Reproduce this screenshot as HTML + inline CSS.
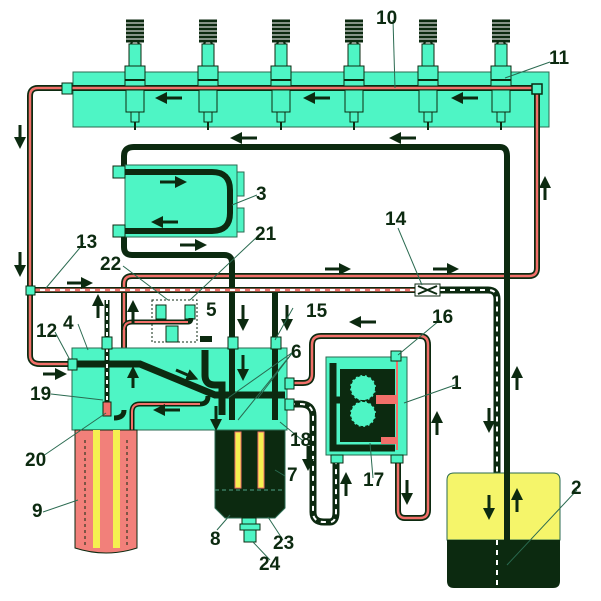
<!DOCTYPE html>
<html><head><meta charset="utf-8"><style>
html,body{margin:0;padding:0;background:#fff}
svg text{font-family:"Liberation Sans",sans-serif;font-weight:bold;font-size:19px;fill:#0c2a10}
</style></head><body>
<svg width="601" height="596" viewBox="0 0 601 596" xmlns="http://www.w3.org/2000/svg">
<defs>
<marker id="ah" markerWidth="4" markerHeight="4" refX="1" refY="2" orient="auto" markerUnits="strokeWidth"><path d="M0,0 L4,2 L0,4z" fill="#0c2a10"/></marker>
<g id="inj">
 <path d="M-9,21h18M-9,25h18M-9,29h18M-9,33h18M-9,37h18M-9,41h18" stroke="#0c2a10" stroke-width="3"/>
 <path d="M-4,44 L-2,40 M4,44 L2,40" stroke="#0c2a10" stroke-width="2"/>
 <rect x="-6" y="44" width="12" height="22" fill="#4ef5c5" stroke="#0c2a10"/>
 <rect x="-10" y="66" width="20" height="20" fill="#4ef5c5" stroke="#0c2a10"/>
 <path d="M-10,80h20" stroke="#0c2a10" stroke-width="2"/>
 <rect x="-9" y="90" width="18" height="22" fill="#4ef5c5" stroke="#0c2a10"/>
 <rect x="-4" y="112" width="8" height="10" fill="#4ef5c5" stroke="#0c2a10"/>
 <path d="M0,122v8" stroke="#0c2a10" stroke-width="2"/>
</g>
</defs>
<rect x="73" y="72" width="476" height="55" fill="#4ef5c5" stroke="#2a6a50"/>
<path d="M70,88 H38 Q30,88 30,96 V355 Q30,364 40,364 H68" fill="none" stroke="#0c2a10" stroke-width="6"/>
<path d="M70,88 H38 Q30,88 30,96 V355 Q30,364 40,364 H68" fill="none" stroke="#f2706a" stroke-width="2.5"/>
<path d="M72,88 H537" stroke="#0c2a10" stroke-width="6"/>
<path d="M72,88 H537" stroke="#f2706a" stroke-width="2.5"/>
<path d="M537,88 V268 Q537,276 529,276 H132 Q124,276 124,284 V412" fill="none" stroke="#0c2a10" stroke-width="6"/>
<path d="M537,88 V268 Q537,276 529,276 H132 Q124,276 124,284 V412" fill="none" stroke="#f2706a" stroke-width="2.5"/>
<rect x="532" y="84" width="10" height="10" fill="#4ef5c5" stroke="#0c2a10" stroke-width="1.5"/>
<rect x="62" y="83" width="10" height="11" fill="#4ef5c5" stroke="#0c2a10"/>
<use href="#inj" x="135" y="0"/><use href="#inj" x="208" y="0"/><use href="#inj" x="281" y="0"/>
<use href="#inj" x="354" y="0"/><use href="#inj" x="428" y="0"/><use href="#inj" x="501" y="0"/>
<path d="M232,420 V263 Q232,255 224,255 H132 Q124,255 124,247 V230 M124,172 V156 Q124,147 134,147 H500 Q507,147 507,156 V585" fill="none" stroke="#0c2a10" stroke-width="6"/>
<rect x="125" y="165" width="112" height="72" fill="#4ef5c5" stroke="#2a6a50"/>
<rect x="237" y="172" width="7" height="24" fill="#4ef5c5" stroke="#2a6a50"/>
<rect x="237" y="208" width="7" height="24" fill="#4ef5c5" stroke="#2a6a50"/>
<path d="M120,172 H212 Q230,172 230,190 V213 Q230,231 212,231 H120" fill="none" stroke="#0c2a10" stroke-width="6"/>
<rect x="113" y="166" width="12" height="12" fill="#4ef5c5" stroke="#0c2a10"/>
<rect x="113" y="225" width="12" height="12" fill="#4ef5c5" stroke="#0c2a10"/>
<path d="M275,290 V420" stroke="#0c2a10" stroke-width="6"/>
<path d="M30,290 H418" stroke="#0c2a10" stroke-width="6"/>
<path d="M30,290 H418" stroke="#f2706a" stroke-width="3"/>
<path d="M30,290 H418" stroke="#fff" stroke-width="2" stroke-dasharray="5,5"/>
<path d="M440,290 H488 Q497,290 497,299 V575" fill="none" stroke="#0c2a10" stroke-width="7"/>
<path d="M440,290 H488 Q497,290 497,299 V575" fill="none" stroke="#fff" stroke-width="2" stroke-dasharray="5,5"/>
<rect x="415" y="284" width="25" height="12" fill="#fff" stroke="#0c2a10"/>
<path d="M418,286 L437,294 M418,294 L437,286" stroke="#0c2a10" stroke-width="2"/>
<rect x="26" y="286" width="9" height="9" fill="#4ef5c5" stroke="#0c2a10"/>
<rect x="152" y="300" width="45" height="42" fill="none" stroke="#0c2a10" stroke-dasharray="2,2"/>
<rect x="156" y="305" width="10" height="14" fill="#4ef5c5" stroke="#0c2a10"/>
<rect x="185" y="305" width="10" height="14" fill="#4ef5c5" stroke="#0c2a10"/>
<rect x="166" y="326" width="12" height="16" fill="#4ef5c5" stroke="#0c2a10"/>
<path d="M124,330 Q124,322 132,322 H188 Q191,322 191,318" fill="none" stroke="#0c2a10" stroke-width="5"/>
<path d="M124,330 Q124,322 132,322 H188" fill="none" stroke="#f2706a" stroke-width="2"/>
<rect x="72" y="348" width="215" height="82" fill="#4ef5c5" stroke="#2a6a50"/>
<path d="M70,364 H140 L215,395 L285,395" fill="none" stroke="#0c2a10" stroke-width="7"/>
<path d="M205,350 V375 Q205,385 215,385 H222 V415" fill="none" stroke="#0c2a10" stroke-width="7"/>
<path d="M232,345 V420 M275,318 V420" stroke="#0c2a10" stroke-width="6"/>
<path d="M107,300 V410" stroke="#0c2a10" stroke-width="5"/><path d="M107,300 V410" stroke="#fff" stroke-width="2" stroke-dasharray="4,4"/>
<path d="M132,430 V412 Q132,404 140,404 H200 Q208,404 208,396" fill="none" stroke="#0c2a10" stroke-width="5"/>
<path d="M132,430 V412 Q132,404 140,404 H200" fill="none" stroke="#f2706a" stroke-width="2"/>
<path d="M124,410 Q124,418 114,418" fill="none" stroke="#0c2a10" stroke-width="5"/>
<rect x="68" y="359" width="9" height="11" fill="#4ef5c5" stroke="#0c2a10"/>
<rect x="102" y="337" width="10" height="12" fill="#4ef5c5" stroke="#0c2a10"/>
<rect x="228" y="337" width="10" height="12" fill="#4ef5c5" stroke="#0c2a10"/>
<rect x="271" y="337" width="10" height="12" fill="#4ef5c5" stroke="#0c2a10"/>
<rect x="200" y="336" width="12" height="6" fill="#0c2a10"/>
<rect x="103" y="402" width="8" height="14" fill="#f2706a" stroke="#0c2a10"/>
<path d="M75,430 H137 V548 Q106,558 75,548Z" fill="#f2807a" stroke="#0c2a10"/>
<rect x="93" y="430" width="7" height="118" fill="#f5f050"/>
<rect x="113" y="430" width="7" height="118" fill="#f5f050"/>
<path d="M85,440 V545 M127,440 V545" stroke="#0c2a10" stroke-dasharray="3,3"/>
<path d="M215,430 H285 V508 L275,518 H225 L215,508Z" fill="#0c2a10" stroke="#2a6a50"/>
<path d="M215,490 H285" stroke="#3a7a60" stroke-width="1.5" stroke-dasharray="4,3"/>
<rect x="235" y="432" width="6" height="56" fill="#f5f050" stroke="#f2706a"/>
<rect x="258" y="432" width="6" height="56" fill="#f5f050" stroke="#f2706a"/>
<rect x="242" y="518" width="14" height="6" fill="#4ef5c5" stroke="#0c2a10"/>
<rect x="240" y="524" width="20" height="6" fill="#4ef5c5" stroke="#0c2a10"/>
<rect x="244" y="530" width="12" height="12" fill="#4ef5c5" stroke="#0c2a10"/>
<path d="M290,383 H303 Q312,383 312,374 V345 Q312,336 321,336 H420 Q428,336 428,345 V510 Q428,518 420,518 H405 Q398,518 398,510 V455" fill="none" stroke="#0c2a10" stroke-width="6"/>
<path d="M290,383 H303 Q312,383 312,374 V345 Q312,336 321,336 H420 Q428,336 428,345 V510 Q428,518 420,518 H405 Q398,518 398,510 V455" fill="none" stroke="#f2706a" stroke-width="2.5"/>
<path d="M290,404 H300 Q313,404 313,416 V512 Q313,522 324,522 H330 Q336,522 336,512 V455" fill="none" stroke="#0c2a10" stroke-width="7"/>
<path d="M290,404 H300 Q313,404 313,416 V512 Q313,522 324,522 H330 Q336,522 336,512 V455" fill="none" stroke="#fff" stroke-width="2" stroke-dasharray="5,5"/>
<rect x="285" y="378" width="9" height="11" fill="#4ef5c5" stroke="#0c2a10"/>
<rect x="285" y="399" width="9" height="11" fill="#4ef5c5" stroke="#0c2a10"/>
<rect x="326" y="357" width="81" height="98" fill="#4ef5c5" stroke="#2a6a50"/>
<path d="M333,363 V448 H395 M333,400 H345" fill="none" stroke="#0c2a10" stroke-width="7"/>
<rect x="340" y="369" width="55" height="73" fill="#0c2a10"/>
<circle cx="363" cy="388" r="13" fill="#4ef5c5" stroke="#0c2a10" stroke-dasharray="3,2" stroke-width="2"/>
<circle cx="363" cy="414" r="13" fill="#4ef5c5" stroke="#0c2a10" stroke-dasharray="3,2" stroke-width="2"/>
<rect x="376" y="395" width="20" height="9" fill="#f2706a"/>
<rect x="381" y="437" width="16" height="7" fill="#f2706a"/>
<path d="M397,360 V450" stroke="#f2706a" stroke-width="2"/>
<rect x="391" y="351" width="10" height="10" fill="#4ef5c5" stroke="#0c2a10"/>
<rect x="331" y="455" width="12" height="8" fill="#4ef5c5" stroke="#0c2a10"/>
<rect x="391" y="455" width="12" height="8" fill="#4ef5c5" stroke="#0c2a10"/>
<path d="M447,480 Q447,473 454,473 H553 Q560,473 560,480 V540 H447Z" fill="#f5f56a" stroke="#2a6a50"/>
<path d="M447,540 H560 V581 Q560,588 553,588 H454 Q447,588 447,581Z" fill="#0c2a10"/>
<path d="M497,540 V588" stroke="#fff" stroke-width="2" stroke-dasharray="5,5"/>
<path d="M507,470 V588" stroke="#0c2a10" stroke-width="6"/>
<g stroke="#0c2a10" stroke-width="3" marker-end="url(#ah)">
<path d="M182,98 H164"/><path d="M330,98 H312"/><path d="M478,98 H460"/><path d="M416,138 H398"/><path d="M257,138 H239"/>
<path d="M160,182 H178"/><path d="M178,222 H160"/><path d="M180,245 H198"/>
<path d="M20,125 V140"/><path d="M20,252 V268"/><path d="M67,283 H84"/><path d="M325,269 H342"/><path d="M433,269 H450"/>
<path d="M545,200 V185"/><path d="M98,318 V303"/><path d="M133,323 V309"/><path d="M43,374 H58"/>
<path d="M133,388 V375"/><path d="M180,410 H162"/><path d="M176,370 L190,376"/><path d="M243,305 V322"/><path d="M287,305 V322"/>
<path d="M216,406 V422"/><path d="M243,355 V372"/><path d="M376,322 H358"/><path d="M437,435 V420"/>
<path d="M407,480 V496"/><path d="M346,496 V481"/><path d="M308,446 V462"/><path d="M489,408 V424"/>
<path d="M517,390 V375"/><path d="M489,495 V511"/><path d="M517,512 V497"/>
</g>
<g stroke="#2a6a50" stroke-width="1">
<path d="M393,20 L395,88"/><path d="M550,62 L505,78"/><path d="M257,195 L232,205"/><path d="M258,236 L190,300"/><path d="M123,266 L168,300"/>
<path d="M84,243 L46,288"/><path d="M398,228 L422,285"/><path d="M55,332 L70,360"/><path d="M78,324 L88,350"/><path d="M51,394 L103,400"/>
<path d="M43,456 L106,413"/><path d="M43,512 L78,500"/><path d="M293,308 L275,340"/><path d="M293,352 L228,398"/><path d="M293,352 L238,420"/><path d="M293,352 L258,398"/>
<path d="M302,440 L280,422"/><path d="M285,476 L275,470"/><path d="M440,320 L398,355"/><path d="M455,385 L404,403"/><path d="M373,478 L370,443"/><path d="M577,490 L507,565"/>
<path d="M217,530 L230,515"/><path d="M283,540 L268,517"/><path d="M270,560 L253,542"/>
</g>
<text x="376" y="24">10</text><text x="549" y="64">11</text><text x="256" y="200">3</text><text x="255" y="240">21</text>
<text x="100" y="270">22</text><text x="76" y="248">13</text><text x="385" y="225">14</text><text x="206" y="316">5</text>
<text x="306" y="317">15</text><text x="291" y="358">6</text><text x="432" y="323">16</text><text x="451" y="389">1</text>
<text x="36" y="337">12</text><text x="63" y="329">4</text><text x="30" y="400">19</text><text x="25" y="466">20</text>
<text x="32" y="517">9</text><text x="290" y="446">18</text><text x="287" y="481">7</text><text x="363" y="486">17</text>
<text x="571" y="494">2</text><text x="210" y="545">8</text><text x="273" y="549">23</text><text x="259" y="570">24</text>
</svg>
</body></html>
